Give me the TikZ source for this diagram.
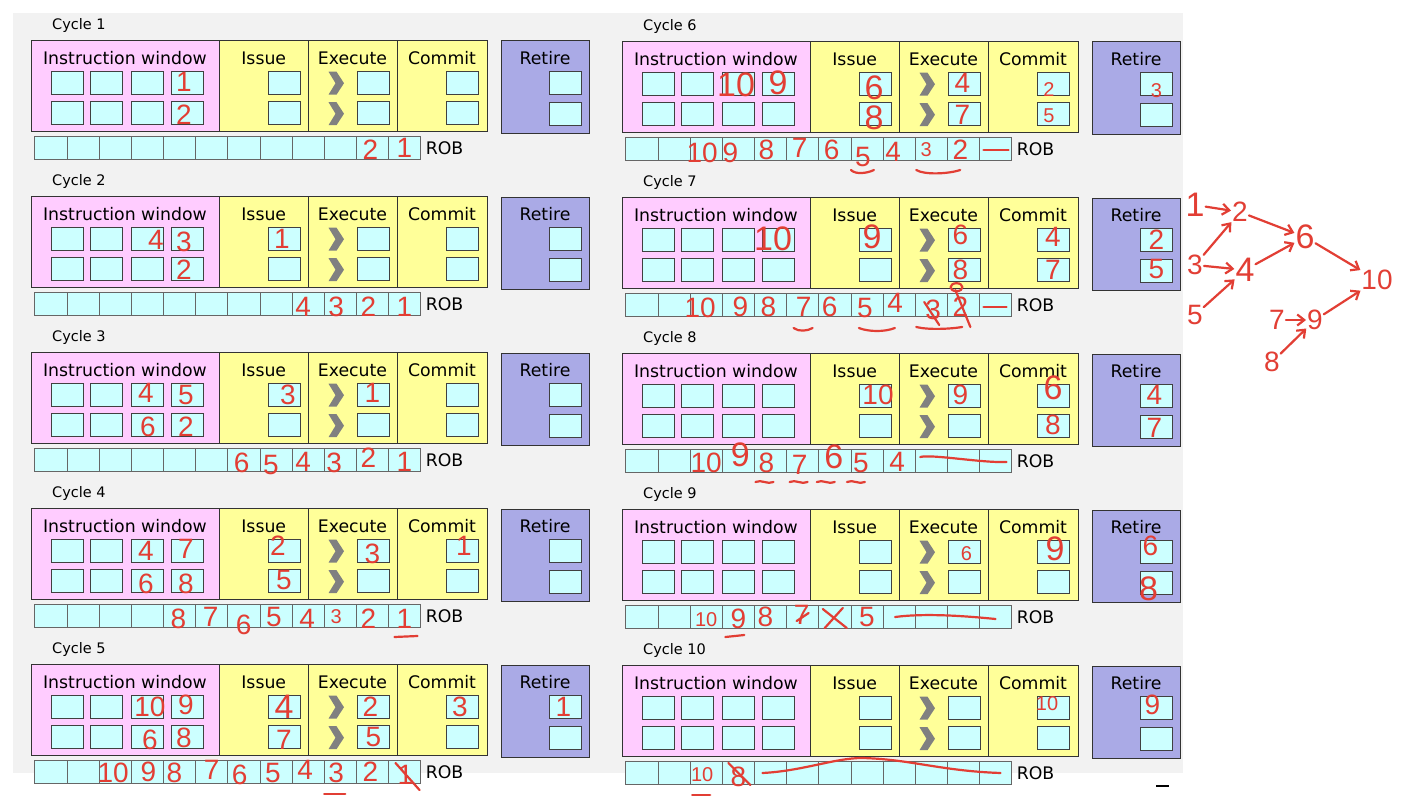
\documentclass[tikz,border=0pt]{standalone}
\usepackage{fontspec}
\setmainfont{DejaVu Sans}
\newfontfamily\handfont{Liberation Sans}
\usetikzlibrary{calc, arrows.meta}
\definecolor{winpink}{RGB}{255,204,255}
\definecolor{stageyellow}{RGB}{255,255,153}
\definecolor{retireblue}{RGB}{170,170,230}
\definecolor{slotcyan}{RGB}{204,255,255}
\definecolor{chevgray}{RGB}{128,128,128}
\definecolor{panelgray}{RGB}{242,242,242}
\definecolor{inkred}{RGB}{226,62,52}

\tikzset{
  slot/.style={draw=black!75, fill=slotcyan, minimum width=32pt, minimum height=23pt, inner sep=0pt, line width=0.9pt},
  robslot/.style={draw=black!60, fill=slotcyan, minimum width=32.15pt, minimum height=22.6pt, inner sep=0pt, line width=0.7pt},
  stage/.style={draw=black!80, line width=1pt},
  stagelabel/.style={inner sep=0pt, font=\fontsize{17.3}{18}\selectfont},
  cyclelabel/.style={anchor=west, inner sep=0pt, font=\fontsize{14.5}{15}\selectfont},
  hand/.style={text=inkred, inner sep=0pt, font=\handfont\fontsize{28}{28}\selectfont},
  handbig/.style={hand, font=\handfont\fontsize{34}{34}\selectfont},
  handsmall/.style={hand, font=\handfont\fontsize{20}{20}\selectfont},
  ink/.style={draw=inkred, line width=2.2pt, line cap=round, line join=round},
  inkarrow/.style={ink, -{Straight Barb[length=7pt,width=11pt]}, shorten >=1pt, shorten <=1pt},
}

% one pipeline snapshot: id, x, y, cycle number
\newcommand{\cyclepanel}[4]{%
  \begin{scope}[shift={(#2,#3)}]
    \node[cyclelabel] (#1-name) at (21,-15) {Cycle #4};
    \filldraw[stage, fill=winpink] (0,0) rectangle (188.5,91);
    \filldraw[stage, fill=stageyellow] (188.5,0) rectangle (277,91);
    \filldraw[stage, fill=stageyellow] (277,0) rectangle (366,91);
    \filldraw[stage, fill=stageyellow] (366,0) rectangle (456,91);
    \filldraw[stage, fill=retireblue] (470,0.3) rectangle (558.4,92.6);
    \node[stagelabel] (#1-winl) at (94,17.5) {Instruction window};
    \node[stagelabel] (#1-issl) at (232.75,17.5) {Issue};
    \node[stagelabel] (#1-exel) at (321.5,17.5) {Execute};
    \node[stagelabel] (#1-coml) at (411,17.5) {Commit};
    \node[stagelabel] (#1-retl) at (514,17.5) {Retire};
    \foreach \c/\k/\m in {36/1/5, 75/2/6, 116/3/7, 156/4/8} {
      \node[slot] (#1-w\k) at (\c,42) {};
      \node[slot] (#1-w\m) at (\c,72.5) {};
    }
    \node[slot] (#1-i1) at (253,42) {};
    \node[slot] (#1-i2) at (253,72.5) {};
    \node[slot] (#1-e1) at (342.5,42) {};
    \node[slot] (#1-e2) at (342.5,72.5) {};
    \node[slot] (#1-c1) at (431,42) {};
    \node[slot] (#1-c2) at (431,72.5) {};
    \node[slot] (#1-r1) at (534.5,42.5) {};
    \node[slot] (#1-r2) at (534.5,73) {};
    \foreach \yy in {31,61.5}
      \fill[chevgray] (297.5,\yy) -- ++(8,0) -- ++(7.5,11.5) -- ++(-7.5,11.5) -- ++(-8,0) -- ++(7,-11.5) -- cycle;
    \foreach \i in {1,...,12}
      \node[robslot] (#1-rob\i) at ({3.8+32.15*(\i-0.5)},107.3) {};
    \node[stagelabel] (#1-robl) at (413.5,107.3) {ROB};
  \end{scope}}

% red handwritten number in a slot
\newcommand{\scrawl}[5][hand]{\node[#1] (#2-n) at ($(#2)+(#3,#4)$) {#5};}

\begin{document}
\begin{tikzpicture}[x=1pt, y=-1pt]
  \useasboundingbox (0,0) rectangle (1422,800);
  \fill[white] (0,0) rectangle (1422,800);
  \fill[panelgray] (13,13) rectangle (1183,773);

  % the ten cycles
  \cyclepanel{c1}{31}{40.7}{1}
  \cyclepanel{c2}{31}{196.7}{2}
  \cyclepanel{c3}{31}{352.7}{3}
  \cyclepanel{c4}{31}{508.7}{4}
  \cyclepanel{c5}{31}{664.7}{5}
  \cyclepanel{c6}{622}{41.7}{6}
  \cyclepanel{c7}{622}{197.7}{7}
  \cyclepanel{c8}{622}{353.7}{8}
  \cyclepanel{c9}{622}{509.7}{9}
  \cyclepanel{c10}{622}{665.7}{10}

  % cycle 1
  \scrawl{c1-w4}{-3}{-1}{1}
  \scrawl{c1-w8}{-3}{2}{2}
  \scrawl{c1-rob11}{-2}{2}{2}
  \scrawl{c1-rob12}{0}{0}{1}

  % cycle 2
  \scrawl{c2-w3}{9}{1}{4}
  \scrawl{c2-w4}{-3}{3}{3}
  \scrawl{c2-w8}{-3}{1}{2}
  \scrawl{c2-i1}{-2}{0}{1}
  \scrawl{c2-rob9}{-5}{3}{4}
  \scrawl{c2-rob10}{-4}{3}{3}
  \scrawl{c2-rob11}{-4}{3}{2}
  \scrawl{c2-rob12}{0}{3}{1}

  % cycle 3
  \scrawl{c3-w3}{-1}{-2}{4}
  \scrawl{c3-w4}{-1}{0}{5}
  \scrawl{c3-w7}{1}{2}{6}
  \scrawl{c3-w8}{-1}{2}{2}
  \scrawl{c3-i1}{4}{0}{3}
  \scrawl{c3-e1}{-1}{-2}{1}
  \scrawl{c3-rob7}{-2}{3}{6}
  \scrawl{c3-rob8}{-5}{5}{5}
  \scrawl{c3-rob9}{-5}{2}{4}
  \scrawl{c3-rob10}{-6}{3}{3}
  \scrawl{c3-rob11}{-4}{-2}{2}
  \scrawl{c3-rob12}{0}{2}{1}

  % cycle 4
  \scrawl{c4-w3}{-1}{0}{4}
  \scrawl{c4-w4}{-1}{-2}{7}
  \scrawl{c4-w7}{-1}{3}{6}
  \scrawl{c4-w8}{-1}{3}{8}
  \scrawl{c4-i1}{-6}{-5}{2}
  \scrawl{c4-i2}{0}{-1}{5}
  \scrawl{c4-e1}{-1}{3}{3}
  \scrawl{c4-c1}{2}{-5}{1}
  \scrawl{c4-rob5}{-1}{3}{8}
  \scrawl{c4-rob6}{-1}{1}{7}
  \scrawl{c4-rob7}{0}{9}{6}
  \scrawl{c4-rob8}{-2}{1}{5}
  \scrawl{c4-rob9}{-1}{3}{4}
  \scrawl[handsmall]{c4-rob10}{-4}{1}{3}
  \scrawl{c4-rob11}{-4}{3}{2}
  \scrawl{c4-rob12}{0}{3}{1}
  \draw[ink] ($(c4-rob12)+(-10,21)$) -- ++(23,-1);

  % cycle 5
  \scrawl{c5-w3}{3}{0}{10}
  \scrawl{c5-w4}{-1}{-2}{9}
  \scrawl{c5-w7}{3}{3}{6}
  \scrawl{c5-w8}{-3}{1}{8}
  \scrawl[handbig]{c5-i1}{0}{0}{4}
  \scrawl{c5-i2}{0}{3}{7}
  \scrawl{c5-e1}{-3}{0}{2}
  \scrawl{c5-e2}{0}{0}{5}
  \scrawl{c5-c1}{-2}{0}{3}
  \scrawl{c5-r1}{-2}{0}{1}
  \scrawl{c5-rob3}{-2}{1}{10}
  \scrawl{c5-rob4}{1}{0}{9}
  \scrawl{c5-rob5}{-5}{1}{8}
  \scrawl{c5-rob6}{0}{-2}{7}
  \scrawl{c5-rob7}{-4}{3}{6}
  \scrawl{c5-rob8}{-3}{1}{5}
  \scrawl{c5-rob9}{-3}{-2}{4}
  \scrawl{c5-rob10}{-4}{1}{3}
  \scrawl{c5-rob11}{-2}{0}{2}
  \scrawl{c5-rob12}{1}{3}{1}
  \draw[ink] ($(c5-rob12)+(-9,-9)$) -- ++(24,27);
  \draw[ink] ($(c5-rob10)+(-16,22)$) -- ++(21,0);

  % cycle 6
  \scrawl[handbig]{c6-w3}{-2}{1}{10}
  \scrawl[handbig]{c6-w4}{0}{-1}{9}
  \scrawl[handbig]{c6-i1}{-1}{4}{6}
  \scrawl[handbig]{c6-i2}{-1}{4}{8}
  \scrawl{c6-e1}{-2}{-1}{4}
  \scrawl{c6-e2}{-2}{1}{7}
  \scrawl[handsmall]{c6-c1}{-4}{6}{2}
  \scrawl[handsmall]{c6-c2}{-4}{2}{5}
  \scrawl[handsmall]{c6-r1}{0}{6}{3}
  \scrawl{c6-rob3}{-4}{4}{10}
  \scrawl{c6-rob4}{-8}{4}{9}
  \scrawl{c6-rob5}{-4}{1}{8}
  \scrawl{c6-rob6}{-3}{-1}{7}
  \scrawl{c6-rob7}{-3}{1}{6}
  \scrawl{c6-rob8}{-4}{8}{5}
  \scrawl{c6-rob9}{-6}{3}{4}
  \scrawl[handsmall]{c6-rob10}{-5}{1}{3}
  \scrawl{c6-rob11}{-3}{1}{2}
  \draw[ink] ($(c6-rob12)+(-12,1)$) -- ++(25,0);
  \draw[ink] ($(c6-rob8)+(-16,21)$) .. controls +(5,5) and +(-6,3) .. ++(23,0);
  \draw[ink] ($(c6-rob10)+(-15,21)$) .. controls +(8,5) and +(-12,4) .. ++(44,0);

  % cycle 7
  \scrawl[handbig]{c7-w4}{-5}{-1}{10}
  \scrawl[handbig]{c7-i1}{-3}{-3}{9}
  \scrawl{c7-e1}{-4}{-5}{6}
  \scrawl{c7-e2}{-4}{0}{8}
  \scrawl{c7-c1}{0}{-3}{4}
  \scrawl{c7-c2}{0}{0}{7}
  \scrawl{c7-r1}{0}{0}{2}
  \scrawl{c7-r2}{0}{-2}{5}
  \scrawl{c7-rob3}{-6}{3}{10}
  \scrawl{c7-rob4}{2}{2}{9}
  \scrawl{c7-rob5}{-2}{2}{8}
  \scrawl{c7-rob6}{1}{2}{7}
  \scrawl{c7-rob7}{-5}{2}{6}
  \scrawl{c7-rob8}{-2}{3}{5}
  \scrawl{c7-rob9}{-4}{-2}{4}
  \scrawl{c7-rob10}{2}{5}{3}
  \scrawl{c7-rob11}{-3}{2}{2}
  \draw[ink] ($(c7-e2)+(-8,17)$) ellipse [x radius=6pt, y radius=4pt];
  \draw[ink] ($(c7-rob10)+(-7,-3)$) -- ++(15,23);
  \draw[ink] ($(c7-rob11)+(-8,-15)$) -- ++(15,37);
  \draw[ink] ($(c7-rob12)+(-12,2)$) -- ++(23,0);
  \draw[ink] ($(c7-rob6)+(-9,23)$) .. controls +(5,4) and +(-5,3) .. ++(19,0);
  \draw[ink] ($(c7-rob8)+(-8,23)$) .. controls +(10,4) and +(-10,4) .. ++(36,0);
  \draw[ink] ($(c7-rob10)+(-15,22)$) .. controls +(12,3) and +(-12,2) .. ++(46,0);

  % cycle 8
  \scrawl{c8-i1}{3}{-1}{10}
  \scrawl{c8-e1}{-4}{-1}{9}
  \scrawl[handbig]{c8-c1}{0}{-8}{6}
  \scrawl{c8-c2}{0}{-1}{8}
  \scrawl{c8-r1}{-2}{-1}{4}
  \scrawl{c8-r2}{-2}{1}{7}
  \scrawl{c8-rob3}{0}{2}{10}
  \scrawl[handbig]{c8-rob4}{2}{-6}{9}
  \scrawl{c8-rob5}{-4}{2}{8}
  \scrawl{c8-rob6}{-3}{4}{7}
  \scrawl[handbig]{c8-rob7}{-1}{-4}{6}
  \scrawl{c8-rob8}{-6}{2}{5}
  \scrawl{c8-rob9}{-2}{1}{4}
  \draw[ink] ($(c8-rob10)+(-11,-4)$) .. controls +(12,-3) and +(-25,1) .. ($(c8-rob12)+(11,1)$);
  \foreach \r/\a in {5/-15, 6/-13, 7/-18, 8/-20}
    \draw[ink] ($(c8-rob\r)+(\a,21)$) .. controls +(6,-3) and +(-6,3) .. ++(18,0);

  % cycle 9
  \scrawl[handsmall]{c9-e1}{2}{2}{6}
  \scrawl[handbig]{c9-c1}{2}{-3}{9}
  \scrawl{c9-r1}{-6}{-6}{6}
  \scrawl[handbig]{c9-r2}{-8}{6}{8}
  \scrawl[handsmall]{c9-rob3}{0}{3}{10}
  \scrawl{c9-rob4}{0}{2}{9}
  \scrawl{c9-rob5}{-5}{0}{8}
  \scrawl{c9-rob6}{-1}{-2}{7}
  \scrawl{c9-rob8}{0}{0}{5}
  \draw[ink] ($(c9-rob6)+(-6,4)$) -- ++(12,-8);
  \draw[ink] ($(c9-rob7)+(-12,-8)$) -- ++(24,19);
  \draw[ink] ($(c9-rob7)+(8,-9)$) -- ++(-18,20);
  \draw[ink] ($(c9-rob9)+(-4,0)$) .. controls +(30,-4) and +(-30,-3) .. ($(c9-rob12)+(0,2)$);
  \draw[ink] ($(c9-rob4)+(-13,20)$) -- ++(19,-2);

  % cycle 10
  \scrawl[handsmall]{c10-c1}{-6}{-4}{10}
  \scrawl{c10-r1}{-4}{-3}{9}
  \scrawl[handsmall]{c10-rob3}{-4}{2}{10}
  \scrawl{c10-rob4}{0}{4}{8}
  \draw[ink] ($(c10-rob4)+(-10,-10)$) -- ++(22,22);
  \draw[ink] ($(c10-rob5)+(-8,0)$) .. controls ($(c10-rob6)+(0,-2)$) and ($(c10-rob7)+(0,-15)$) .. ($(c10-rob8)+(-5,-15)$)
             .. controls ($(c10-rob9)+(10,-14)$) and ($(c10-rob10)+(10,-2)$) .. ($(c10-rob12)+(5,0)$);
  \draw[ink] ($(c10-rob3)+(-14,22)$) -- ++(18,0);
  \draw[black, line width=1.2pt] (1156,786) -- (1169,786);

  % dependences
  \node[handbig] (g1) at (1195,205) {1};
  \node[hand] (g2) at (1240,212) {2};
  \node[hand] (g3) at (1195,265) {3};
  \node[handbig] (g4) at (1245,270) {4};
  \node[hand] (g5) at (1195,315) {5};
  \node[handbig] (g6) at (1305,237) {6};
  \node[hand] (g7) at (1277,320) {7};
  \node[hand] (g9) at (1315,320) {9};
  \node[hand] (g8) at (1272,362) {8};
  \node[hand] (g10) at (1377,280) {10};
  \draw[inkarrow] (g1) -- (g2);
  \draw[inkarrow] (g3) -- (g2);
  \draw[inkarrow] (g3) -- (g4);
  \draw[inkarrow] (g5) -- (g4);
  \draw[inkarrow] (g2) -- (g6);
  \draw[inkarrow] (g4) -- (g6);
  \draw[inkarrow] (g7) -- (g9);
  \draw[inkarrow] (g8) -- (g9);
  \draw[inkarrow] (g6) -- (g10);
  \draw[inkarrow] (g9) -- (g10);
\end{tikzpicture}
\end{document}
